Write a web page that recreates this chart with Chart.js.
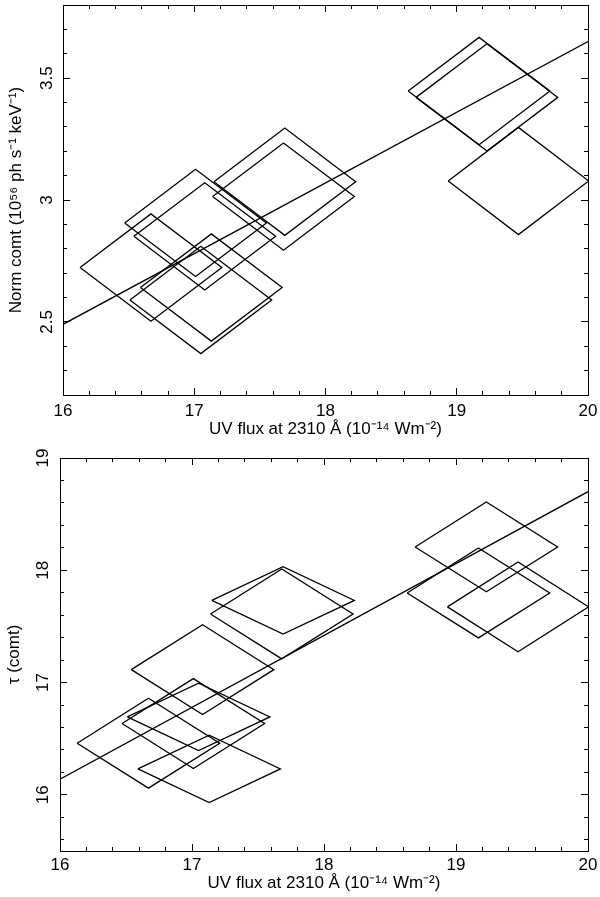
<!DOCTYPE html>
<html>
<head>
<meta charset="utf-8">
<script src="https://cdn.jsdelivr.net/npm/chart.js@4.4.1/dist/chart.umd.min.js"></script>
<style>
  html, body { margin: 0; padding: 0; background: #fff; }
  body { width: 600px; height: 897px; position: relative; overflow: hidden; }
  .box { position: absolute; left: 0; width: 600px; }
</style>
</head>
<body>
<div class="box" style="top:0;height:450px"><canvas id="topChart"></canvas></div>
<div class="box" style="top:440px;height:457px"><canvas id="botChart"></canvas></div>
<script>
// ---------- data ----------
const uvFlux      = [16.67, 17.01, 17.05, 17.08, 17.13, 17.68, 17.69, 19.17, 19.23, 19.47];
const uvFluxErr   = [0.54, 0.54, 0.54, 0.54, 0.54, 0.54, 0.54, 0.54, 0.54, 0.535];

const normComt    = [2.723, 2.906, 2.590, 2.851, 2.641, 3.014, 3.075, 3.447, 3.421, 3.078];
const normComtErr = [0.22, 0.22, 0.22, 0.22, 0.22, 0.22, 0.22, 0.22, 0.22, 0.22];

const tauComt     = [16.46, 16.635, 16.694, 17.115, 16.231, 17.611, 17.732, 17.798, 18.208, 17.674];
const tauComtErr  = [0.40, 0.40, 0.30, 0.40, 0.30, 0.40, 0.30, 0.40, 0.40, 0.40];

const normFitX = [16, 20];
const normFitY = [2.49, 3.65];
const tauFitX  = [16, 20];
const tauFitY  = [16.14, 18.70];

// tick labels
const xTicks      = [16, 17, 18, 19, 20];
const normYTicks  = [2.5, 3, 3.5];
const tauYTicks   = [16, 17, 18, 19];
const xMinorStep    = 0.2;
const normMinorStep = 0.1;
const tauMinorStep  = 0.2;

const xTitle    = 'UV flux at 2310 Å (10⁻¹⁴ Wm⁻²)';
const normTitle = 'Norm comt (10⁵⁶ ph s⁻¹ keV⁻¹)';
const tauTitle  = 'τ (comt)';

// ---------- helpers ----------
const FONT = '"Liberation Sans", Arial, Helvetica, sans-serif';
function minorTicks(min, max, step) {
  const out = [];
  const first = Math.ceil(min / step - 1e-9);
  const last = Math.floor(max / step + 1e-9);
  for (let k = first; k <= last; k++) out.push(+(k * step).toFixed(4));
  return out;
}
function diamond(x, y, dx, dy) {
  return [
    {x: x - dx, y: y}, {x: x, y: y + dy}, {x: x + dx, y: y},
    {x: x, y: y - dy}, {x: x - dx, y: y}
  ];
}
function buildDatasets(xs, xe, ys, ye, fx, fy) {
  const ds = xs.map((x, i) => ({
    data: diamond(x, ys[i], xe[i], ye[i]),
    showLine: true, pointRadius: 0, borderColor: '#000', borderWidth: 1.3,
    fill: false, tension: 0, xAxisID: 'x', yAxisID: 'y'
  }));
  ds.push({
    data: fx.map((x, i) => ({x: x, y: fy[i]})),
    showLine: true, pointRadius: 0, borderColor: '#000', borderWidth: 1.3,
    fill: false, tension: 0, xAxisID: 'x', yAxisID: 'y'
  });
  return ds;
}
const setTicks = arr => s => { s.ticks = arr.map(v => ({value: v})); };
const noPad = s => { s.paddingLeft = 0; s.paddingRight = 0; s.paddingTop = 0; s.paddingBottom = 0; };
const MAJ = -7, MIN = -4;

function tickOnlyAxis(pos, axis, min, max, ticks, len, weight) {
  const horiz = (pos === 'top' || pos === 'bottom');
  return {
    type: 'linear', axis: axis, position: pos, min: min, max: max, weight: weight,
    afterBuildTicks: setTicks(ticks),
    afterFit: s => { if (horiz) s.height = 0; else s.width = 0; noPad(s); },
    ticks: {display: false},
    grid: {drawOnChartArea: false, drawTicks: true, tickLength: len, tickColor: '#000', tickWidth: 1},
    border: {display: pos === 'top' || pos === 'right', color: '#000', width: 1}
  };
}

function makeChart(id, cfg) {
  const xMinor = minorTicks(cfg.xMin, cfg.xMax, xMinorStep);
  const yMinor = minorTicks(cfg.yMin, cfg.yMax, cfg.yMinorStep);
  return new Chart(document.getElementById(id), {
    type: 'scatter',
    data: {datasets: buildDatasets(uvFlux, uvFluxErr, cfg.ys, cfg.ye, cfg.fx, cfg.fy)},
    options: {
      responsive: true, maintainAspectRatio: false, animation: false, devicePixelRatio: 1,
      layout: {padding: {top: cfg.padTop, right: 12, left: 0, bottom: 0}},
      plugins: {legend: {display: false}, tooltip: {enabled: false}},
      scales: {
        x: {
          type: 'linear', position: 'bottom', min: cfg.xMin, max: cfg.xMax, weight: 1,
          afterBuildTicks: setTicks(xTicks),
          afterFit: s => { s.height = cfg.xHeight; noPad(s); },
          grid: {drawOnChartArea: false, drawTicks: true, tickLength: MAJ, tickColor: '#000', tickWidth: 1},
          border: {display: true, color: '#000', width: 1},
          ticks: {color: '#000', font: {family: FONT, size: 17}, padding: cfg.xLabPad,
                  maxRotation: 0, minRotation: 0, autoSkip: false, callback: v => String(v)},
          title: {display: true, text: xTitle, color: '#000', font: {family: FONT, size: 17},
                  padding: {top: 0, bottom: cfg.xTitlePad}}
        },
        xm: tickOnlyAxis('bottom', 'x', cfg.xMin, cfg.xMax, xMinor, MIN, 0),
        xt: tickOnlyAxis('top', 'x', cfg.xMin, cfg.xMax, xTicks, MAJ, 1),
        xtm: tickOnlyAxis('top', 'x', cfg.xMin, cfg.xMax, xMinor, MIN, 0),
        y: {
          type: 'linear', position: 'left', min: cfg.yMin, max: cfg.yMax, weight: 1,
          afterBuildTicks: setTicks(cfg.yTicks),
          afterFit: s => { s.width = cfg.yWidth; noPad(s); },
          grid: {drawOnChartArea: false, drawTicks: true, tickLength: MAJ, tickColor: '#000', tickWidth: 1},
          border: {display: true, color: '#000', width: 1},
          ticks: {color: '#000', font: {family: FONT, size: 17}, padding: cfg.yLabPad,
                  minRotation: 90, maxRotation: 90, crossAlign: 'center', autoSkip: false,
                  callback: v => String(v)},
          title: {display: true, text: cfg.yTitle, color: '#000', font: {family: FONT, size: 17},
                  padding: {top: cfg.yTitlePad, bottom: 0}}
        },
        ym: tickOnlyAxis('left', 'y', cfg.yMin, cfg.yMax, yMinor, MIN, 0),
        yr: tickOnlyAxis('right', 'y', cfg.yMin, cfg.yMax, cfg.yTicks, MAJ, 1),
        yrm: tickOnlyAxis('right', 'y', cfg.yMin, cfg.yMax, yMinor, MIN, 0)
      }
    }
  });
}

makeChart('topChart', {
  xMin: 16, xMax: 20, yMin: 2.2, yMax: 3.8, yMinorStep: normMinorStep,
  ys: normComt, ye: normComtErr, fx: normFitX, fy: normFitY,
  yTicks: normYTicks, yTitle: normTitle,
  padTop: 5, xHeight: 55, yWidth: 63,
  xLabPad: 13, xTitlePad: 10, yLabPad: 11, yTitlePad: 6
});
makeChart('botChart', {
  xMin: 16, xMax: 20, yMin: 15.5, yMax: 19, yMinorStep: tauMinorStep,
  ys: tauComt, ye: tauComtErr, fx: tauFitX, fy: tauFitY,
  yTicks: tauYTicks, yTitle: tauTitle,
  padTop: 18, xHeight: 46, yWidth: 60,
  xLabPad: 11, xTitlePad: 3, yLabPad: 14, yTitlePad: 4
});
</script>
</body>
</html>
